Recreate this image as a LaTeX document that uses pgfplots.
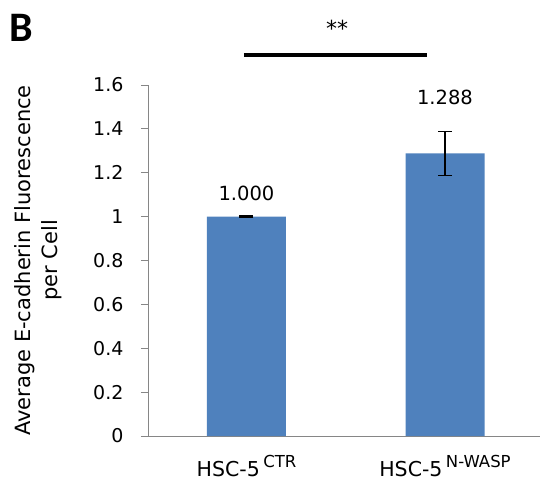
\documentclass[border=0pt]{standalone}
\usepackage{pgfplots}
\pgfplotsset{compat=1.18}
\usepackage{fontspec}
\setmainfont{DejaVu Sans}
\newfontfamily\bfont{Carlito}
\definecolor{barblue}{RGB}{79,129,189}
\definecolor{axgray}{RGB}{134,134,134}
\begin{document}
\begin{tikzpicture}[x=1pt,y=1pt]
\useasboundingbox (0,0) rectangle (540,483);
\begin{axis}[
  at={(148pt,47pt)}, anchor=south west,
  scale only axis, width=392pt, height=351pt,
  xmin=-0.4962, xmax=1.4786, ymin=0, ymax=1.6,
  ybar, bar width=79pt,
  axis x line*=bottom, axis y line*=left,
  axis line style={-, draw=axgray, line width=1pt},
  ytick={0,0.2,...,1.6},
  ytick pos=left, tick align=outside, major tick length=7pt,
  ytick style={draw=axgray, line width=1pt},
  xtick={0,1}, xtick style={draw=none},
  xticklabels={HSC-5\,\raisebox{9pt}{\fontsize{16.5}{16}\selectfont CTR}, HSC-5\,\raisebox{9pt}{\fontsize{16.5}{16}\selectfont N-WASP}},
  xticklabel style={font=\fontsize{20.5}{21}\selectfont, yshift=-9pt},
  yticklabel style={font=\fontsize{19}{20}\selectfont, xshift=-14pt},
  /pgf/number format/assume math mode=true,
  clip=false,
  ylabel={Average E-cadherin Fluorescence\\per Cell},
  ylabel style={at={(axis description cs:-0.2793,0.5)}, anchor=center, align=center, font=\fontsize{21}{27}\selectfont},
]
\addplot[fill=barblue, draw=none,
  error bars/.cd, y dir=both, y explicit,
  error bar style={black, line width=1.3pt},
  error mark options={rotate=90, mark size=7pt, line width=1.3pt, black}]
  coordinates {(0,1.000) +- (0,0.003) (1,1.288) +- (0,0.100)};
\node[font=\fontsize{19.5}{20}\selectfont] at (axis cs:0,1.1076) {1.000};
\node[font=\fontsize{19.5}{20}\selectfont] at (axis cs:1,1.545) {1.288};
\draw[black, line width=3.5pt] (axis cs:-0.0126,1.7366) -- (axis cs:0.909,1.7366);
\node[font=\fontsize{22}{22}\selectfont] at (axis cs:0.456,1.86) {**};
\end{axis}
\node[font=\bfont\bfseries\fontsize{42}{42}\selectfont] at (21pt,455pt) {B};
\end{tikzpicture}
\end{document}
